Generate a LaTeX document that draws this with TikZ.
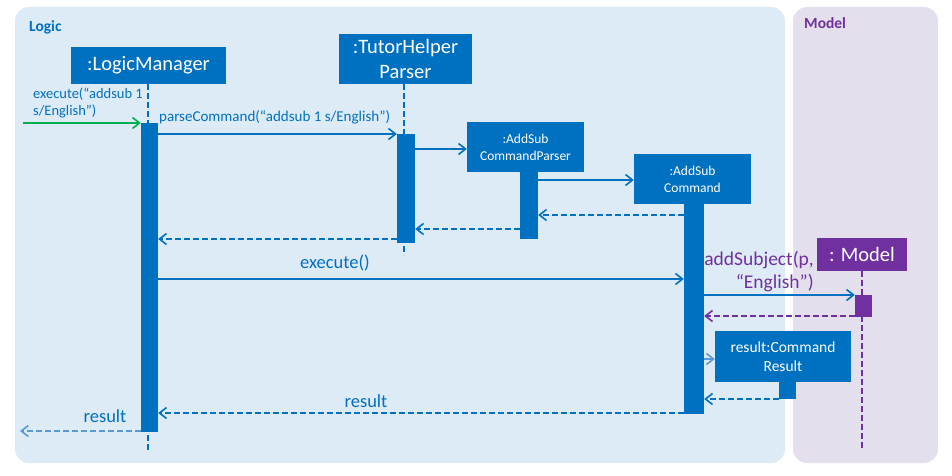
\documentclass[tikz,border=0pt]{standalone}
\usepackage{fontspec}
\setmainfont{Carlito}
\usetikzlibrary{arrows.meta,positioning}
\definecolor{logicblue}{HTML}{0070C0}
\definecolor{modelpurple}{HTML}{7030A0}
\definecolor{callgreen}{HTML}{00B050}
\definecolor{paleblue}{HTML}{5B9BD5}
\definecolor{logicbg}{HTML}{DDEBF7}
\definecolor{modelbg}{HTML}{E4DFEC}
\newcommand{\fs}[2]{\fontsize{#1}{#2}\selectfont}

\begin{document}
\begin{tikzpicture}[x=1pt,y=-1pt,
	every node/.style={inner sep=0pt},
	frame/.style={rounded corners=14pt},
	object/.style={fill=logicblue,text=white,align=center},
	bigobj/.style={object,font=\fs{20.5}{25}},
	smallobj/.style={object,font=\fs{13.5}{17}},
	activation/.style={fill=logicblue,anchor=north,minimum width=17pt},
	lifeline/.style={draw=logicblue,line width=1.4pt,dash pattern=on 6pt off 3pt},
	call/.style={draw=logicblue,line width=1.6pt,-{Straight Barb[length=7pt,width=11pt]}},
	reply/.style={call,dash pattern=on 6pt off 3pt},
	msg/.style={text=logicblue,font=\fs{15}{17}}
	]
  \useasboundingbox (0,0) rectangle (952,476);
  % frames
  \fill[logicbg,frame] (15,7) rectangle (785,463);
  \fill[modelbg,frame] (793,7) rectangle (938,463);
  \node[anchor=west,text=logicblue,font=\bfseries\fs{15.5}{18}] (logicLbl) at (29,27) {Logic};
  \node[anchor=west,text=modelpurple,font=\bfseries\fs{15.5}{18}] (modelLbl) at (804,23) {Model};

  % objects
  \node[bigobj,minimum width=155pt,minimum height=37pt] (lm) at (148.5,65.5) {:LogicManager};
  \node[bigobj,minimum width=133pt,minimum height=50pt] (tp) at (405.5,59) {:TutorHelper\\Parser};
  \node[smallobj,minimum width=117pt,minimum height=50pt] (acp) at (525.5,147) {:AddSub\\CommandParser};
  \node[smallobj,minimum width=117pt,minimum height=50pt] (ac) at (692.5,179) {:AddSub\\Command};
  \node[bigobj,fill=modelpurple,minimum width=90pt,minimum height=33pt] (model) at (862,254.5) {: Model};
  \node[object,font=\fs{15.5}{19},minimum width=136pt,minimum height=51pt] (cr) at (783,356.5) {result:Command\\Result};

  % lifelines
  \draw[lifeline] (lm.south -| 148,0) -- ++(0,367);
  \draw[lifeline] (tp.south -| 404,0) -- ++(0,171);
  \draw[lifeline,draw=modelpurple] (model.south) -- ++(0,179);

  % activations
  \node[activation,minimum height=309pt] (lmAct) at (149.5,123) {};
  \node[activation,minimum width=18pt,minimum height=109pt] (tpAct) at (406,134) {};
  \node[activation,minimum width=18pt,minimum height=67pt] (acpAct) at (529,172) {};
  \node[activation,minimum width=20pt,minimum height=210pt] (acAct) at (694,204) {};
  \node[activation,fill=modelpurple,minimum height=22pt] (modelAct) at (863.5,295) {};
  \node[activation,minimum height=17pt] (crAct) at (787.5,382) {};

  % messages
  \coordinate (in) at (23,123);
  \draw[call,draw=callgreen] (in) -- (lmAct.north west);
  \node[msg,font=\fs{14.5}{17},anchor=west,align=left] (inLbl) at (33,102.5) {execute(“addsub 1\\s/English”)};
  \draw[call] (lmAct.east |- 0,134) -- (tpAct.west |- 0,134);
  \node[msg,anchor=west] (parseLbl) at (159,117) {parseCommand(“addsub 1 s/English”)};
  \draw[call] (tpAct.east |- 0,149) -- (acp.west |- 0,149);
  \draw[call] (acpAct.east |- 0,180) -- (ac.west |- 0,180);
  \draw[reply] (acAct.west |- 0,215) -- (acpAct.east |- 0,215);
  \draw[reply] (acpAct.west |- 0,229) -- (tpAct.east |- 0,229);
  \draw[reply] (tpAct.west |- 0,239) -- (lmAct.east |- 0,239);
  \draw[call] (lmAct.east |- 0,279) -- (acAct.west |- 0,279);
  \node[msg,font=\fs{18.5}{20}] (execLbl) at (335,263) {execute()};
  \draw[call] (acAct.east |- 0,295) -- (modelAct.west |- 0,295);
  \node[msg,text=modelpurple,font=\fs{19.5}{23},anchor=east,align=right] (addLbl) at (814,271.5) {addSubject(p,\\“English”)};
  \draw[reply,draw=modelpurple] (modelAct.west |- 0,316) -- (acAct.east |- 0,316);
  \draw[call,draw=paleblue] (acAct.east |- 0,359) -- (cr.west |- 0,359);
  \draw[reply] (crAct.west |- 0,399) -- (acAct.east |- 0,399);
  \draw[reply] (acAct.west |- 0,413) -- (lmAct.east |- 0,413);
  \node[msg,font=\fs{18.5}{20}] (resLbl) at (366,401) {result};
  \coordinate (out) at (20,431);
  \draw[reply,draw=paleblue] (lmAct.west |- 0,431) -- (out);
  \node[msg,font=\fs{18.5}{20}] (outLbl) at (105,416) {result};
\end{tikzpicture}
\end{document}
